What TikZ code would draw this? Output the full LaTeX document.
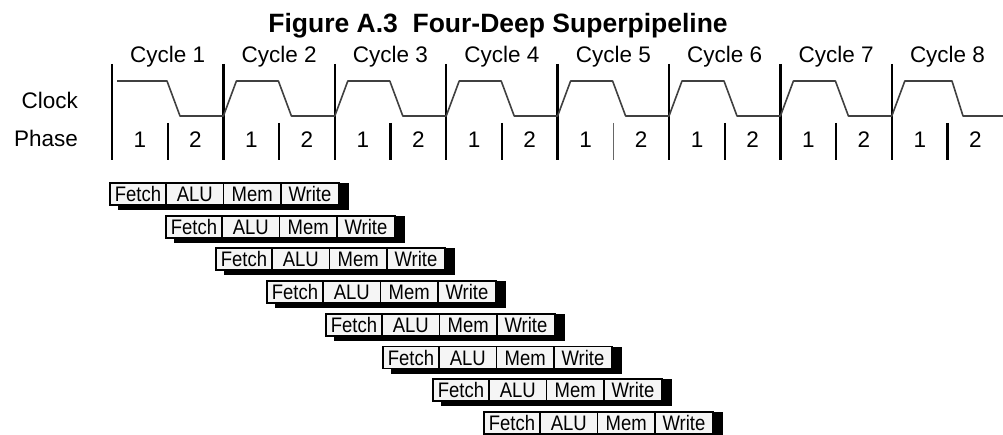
\documentclass[tikz,border=0pt]{standalone}
\usepackage{fontspec}
\setmainfont{Liberation Sans}
\begin{document}
\begin{tikzpicture}[x=1pt,y=-1pt,
  vline/.style={line width=2.4pt, draw=black},
  pline/.style={line width=2.4pt, draw=black},
  clk/.style={line width=1.6pt, draw=black!75, line join=round},
  lbl/.style={font=\fontsize{22.5}{26}\selectfont, anchor=base, inner sep=0},
  cell/.style={draw=black, line width=1.8pt, fill=black!4, minimum height=22pt,
    inner sep=0, outer sep=0, anchor=north west, text height=15pt, text depth=0pt,
    font=\fontsize{21}{24}\selectfont},
  shadowbox/.style={fill=black}]
\useasboundingbox (0,0) rectangle (1003,435);

\node[font=\bfseries\fontsize{26.5}{30}\selectfont, anchor=base, inner sep=0] (title) at (498,33) {Figure A.3\ \ Four-Deep Superpipeline};

\node[lbl, anchor=base east] (clock) at (78,109) {Clock};
\node[lbl, anchor=base east] (phase) at (78,147) {Phase};

\foreach \i in {0,...,7} {
  \pgfmathsetmacro\b{112+111.4*\i}
  \pgfmathtruncatemacro\n{\i+1}
  \draw[vline] (\b,64) -- (\b,160);
  \ifnum\n=5
    \draw[line width=1.2pt, draw=black!60] (\b+55.7,123) -- (\b+55.7,160);
  \else
    \draw[pline] (\b+55.7,123) -- (\b+55.7,160);
  \fi
  \node[lbl] (cyc\n) at (\b+55.7,63) {Cycle \n};
  \node[lbl] (pa\n) at (\b+28,148) {1};
  \node[lbl] (pb\n) at (\b+83.5,148) {2};
}

\draw[clk] (117,81) -- (167,81) -- (180,116) -- (223.4,116)
 -- (236.4,81) -- (278.4,81) -- (291.4,116) -- (334.8,116)
 -- (347.8,81) -- (389.8,81) -- (402.8,116) -- (446.2,116)
 -- (459.2,81) -- (501.2,81) -- (514.2,116) -- (557.6,116)
 -- (570.6,81) -- (612.6,81) -- (625.6,116) -- (669,116)
 -- (682,81) -- (724,81) -- (737,116) -- (780.4,116)
 -- (793.4,81) -- (835.4,81) -- (848.4,116) -- (891.8,116)
 -- (904.8,81) -- (952,81) -- (963,116) -- (1003,116);

\foreach \l [count=\r] in {110,166,216,267,326,383,433,484} {
  \pgfmathsetmacro\t{183+32.7*(\r-1)}
  \fill[shadowbox] (\l+8,\t) rectangle (\l+239,\t+27);
  \node[cell, minimum width=56pt] (F\r) at (\l,\t) {\scalebox{0.88}[1]{Fetch}};
  \node[cell, minimum width=57.5pt] (A\r) at (F\r.north east) {\scalebox{0.88}[1]{ALU}};
  \node[cell, minimum width=57.5pt] (M\r) at (A\r.north east) {\scalebox{0.88}[1]{Mem}};
  \node[cell, minimum width=58pt] (W\r) at (M\r.north east) {\scalebox{0.88}[1]{Write}};
}
\end{tikzpicture}
\end{document}
